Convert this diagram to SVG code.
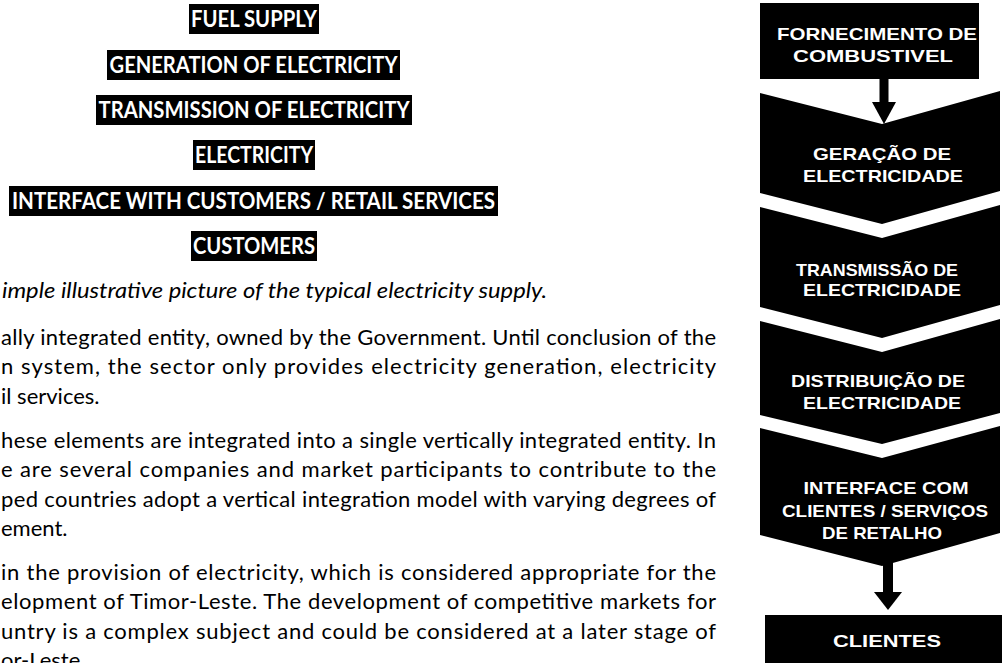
<svg xmlns="http://www.w3.org/2000/svg" width="1008" height="663" viewBox="0 0 1008 663">
<style>
.bar{fill:#000}
.bt{font-family:Lato,"Liberation Sans",sans-serif;font-weight:700;font-size:22px;fill:#fff;text-anchor:middle}
.body{font-family:Lato,"Liberation Sans",sans-serif;font-size:22px;fill:#000}
.cap{font-style:italic}
.shape{fill:#000}
.lbl{font-family:"Liberation Sans",Arial,sans-serif;font-weight:700;font-size:17px;fill:#fff;text-anchor:middle}
</style>
<rect width="1008" height="663" fill="#fff"/>
<g id="left-list">
<g id="l-fuel"><rect class="bar" x="189" y="4" width="130" height="30"/><text class="bt" x="254" y="27" textLength="126" lengthAdjust="spacingAndGlyphs">FUEL SUPPLY</text></g>
<g id="l-generation"><rect class="bar" x="107" y="50" width="293" height="30"/><text class="bt" x="253.5" y="73" textLength="288" lengthAdjust="spacingAndGlyphs">GENERATION OF ELECTRICITY</text></g>
<g id="l-transmission"><rect class="bar" x="96" y="95" width="316" height="30"/><text class="bt" x="254" y="118" textLength="311" lengthAdjust="spacingAndGlyphs">TRANSMISSION OF ELECTRICITY</text></g>
<g id="l-electricity"><rect class="bar" x="193" y="140" width="122" height="30"/><text class="bt" x="254" y="163" textLength="118" lengthAdjust="spacingAndGlyphs">ELECTRICITY</text></g>
<g id="l-interface"><rect class="bar" x="9" y="186" width="489" height="30"/><text class="bt" x="253.5" y="209" textLength="483" lengthAdjust="spacingAndGlyphs">INTERFACE WITH CUSTOMERS / RETAIL SERVICES</text></g>
<g id="l-customers"><rect class="bar" x="191" y="231" width="126" height="30"/><text class="bt" x="254" y="254" textLength="122" lengthAdjust="spacingAndGlyphs">CUSTOMERS</text></g>
</g>
<g id="body-text">
<text class="body cap" x="2" y="298" textLength="545" lengthAdjust="spacingAndGlyphs">imple illustrative picture of the typical electricity supply.</text>
<text class="body" x="1" y="345" textLength="715" lengthAdjust="spacing">ally integrated entity, owned by the Government. Until conclusion of the</text>
<text class="body" x="1" y="374.3" textLength="715" lengthAdjust="spacing">n system, the sector only provides electricity generation, electricity</text>
<text class="body" x="1" y="403.6">il services.</text>
<text class="body" x="1" y="447.9" textLength="715" lengthAdjust="spacing">hese elements are integrated into a single vertically integrated entity. In</text>
<text class="body" x="1" y="477.2" textLength="715" lengthAdjust="spacing">e are several companies and market participants to contribute to the</text>
<text class="body" x="1" y="506.5" textLength="715" lengthAdjust="spacing">ped countries adopt a vertical integration model with varying degrees of</text>
<text class="body" x="1" y="535.8">ement.</text>
<text class="body" x="1" y="580.1" textLength="715" lengthAdjust="spacing">in the provision of electricity, which is considered appropriate for the</text>
<text class="body" x="1" y="609.4" textLength="715" lengthAdjust="spacing">elopment of Timor-Leste. The development of competitive markets for</text>
<text class="body" x="1" y="638.7" textLength="715" lengthAdjust="spacing">untry is a complex subject and could be considered at a later stage of</text>
<text class="body" x="1" y="668">or-Leste.</text>
</g>
<g id="n-fornecimento"><rect class="shape" x="760" y="3" width="219" height="76"/><text class="lbl" x="877" y="40" textLength="200" lengthAdjust="spacingAndGlyphs">FORNECIMENTO DE</text><text class="lbl" x="873" y="62" textLength="160" lengthAdjust="spacingAndGlyphs">COMBUSTIVEL</text></g>
<g id="n-geracao"><polygon class="shape" points="760,93 882,124 1000,91 1000,191 882,224 760,193"/><text class="lbl" x="882" y="160" textLength="138" lengthAdjust="spacingAndGlyphs">GERAÇÃO DE</text><text class="lbl" x="883" y="182" textLength="160" lengthAdjust="spacingAndGlyphs">ELECTRICIDADE</text></g>
<g id="n-transmissao"><polygon class="shape" points="760,207 882,238 1000,205 1000,305 882,338 760,307"/><text class="lbl" x="877" y="276" textLength="162" lengthAdjust="spacingAndGlyphs">TRANSMISSÃO DE</text><text class="lbl" x="882" y="296" textLength="158" lengthAdjust="spacingAndGlyphs">ELECTRICIDADE</text></g>
<g id="n-distribuicao"><polygon class="shape" points="760,321 882,352 1000,319 1000,413 882,444 760,415"/><text class="lbl" x="878" y="387" textLength="174" lengthAdjust="spacingAndGlyphs">DISTRIBUIÇÃO DE</text><text class="lbl" x="882" y="409" textLength="158" lengthAdjust="spacingAndGlyphs">ELECTRICIDADE</text></g>
<g id="n-interface"><polygon class="shape" points="760,428 882,458 1000,426 1000,533 882,566 760,535"/><text class="lbl" x="886" y="494" textLength="165" lengthAdjust="spacingAndGlyphs">INTERFACE COM</text><text class="lbl" x="885" y="517" textLength="206" lengthAdjust="spacingAndGlyphs">CLIENTES / SERVIÇOS</text><text class="lbl" x="882" y="539" textLength="120" lengthAdjust="spacingAndGlyphs">DE RETALHO</text></g>
<g id="n-clientes"><rect class="shape" x="765" y="615" width="237" height="48"/><text class="lbl" x="887" y="647" textLength="108" lengthAdjust="spacingAndGlyphs">CLIENTES</text></g>
<g id="connectors">
<rect class="shape" x="879.5" y="78" width="9" height="25"/><polygon class="shape" points="872,102 896,102 884,124"/>
<rect class="shape" x="883" y="560" width="10" height="33"/><polygon class="shape" points="874,592 902,592 888,610"/>
</g>
</svg>
